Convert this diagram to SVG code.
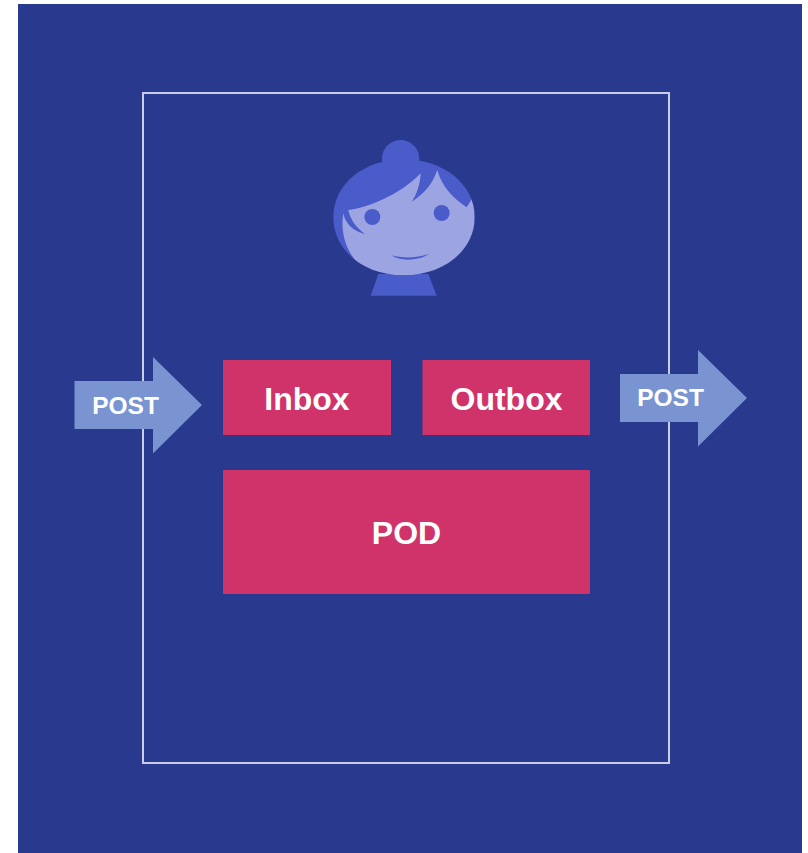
<svg xmlns="http://www.w3.org/2000/svg" width="808" height="853" viewBox="0 0 808 853">
<style>
.bg{fill:#29398d}
.frame{fill:none;stroke:#c9cde8;stroke-width:2}
.box{fill:#d03369}
.arrow{fill:#7a93d1}
.hair{fill:#4a5cc9}
.skin{fill:#9ca5e2}
text{font-family:"Liberation Sans",Arial,sans-serif;font-weight:700;fill:#fff;text-anchor:middle}
.big{font-size:32px}
.small{font-size:24.500px}
</style>
<defs>
<clipPath id="headClip"><path d="M70 262C70 160 165 88 281 88C397 88 494 160 494 262C494 364 397 436 281 436C165 436 70 364 70 262Z"/></clipPath>
</defs>
<rect class="bg" x="18" y="4" width="784" height="849"/>
<rect id="frame" class="frame" x="143" y="93" width="526" height="670"/>
<g id="person" transform="translate(310 130) scale(.33333)">
<path class="hair" d="M205 432L355 432L380 497L182 497Z"/>
<circle class="hair" cx="272" cy="86" r="56"/>
<path class="hair" d="M70 262C70 160 165 88 281 88C397 88 494 160 494 262C494 364 397 436 281 436C165 436 70 364 70 262Z"/>
<path class="skin" clip-path="url(#headClip)" d="M115 240C170 235 270 195 332 130C330 165 320 195 305 215C345 190 368 160 382 120C395 170 430 205 470 232L488 203L510 300L400 460L180 460L135 390C110 358 90 310 100 250C105 280 130 305 165 312C135 290 120 265 115 240Z"/>
<circle class="hair" cx="187" cy="261" r="24"/>
<circle class="hair" cx="395" cy="249" r="24"/>
<path class="hair" d="M244 376C280 386 325 384 357 371C330 392 272 396 244 376Z"/>
</g>
<g id="inbox">
<rect class="box" x="223" y="360" width="168" height="75"/>
<text class="big" x="307" y="410">Inbox</text>
</g>
<g id="outbox">
<rect class="box" x="422.500" y="360" width="167.500" height="75"/>
<text class="big" x="506.500" y="410">Outbox</text>
</g>
<g id="pod">
<rect class="box" x="223" y="470" width="367" height="124"/>
<text class="big" x="406.500" y="544">POD</text>
</g>
<g id="connectors">
<g id="post-in">
<path class="arrow" d="M74.500 381H153V357L202 405L153 453.500V429H74.500Z"/>
<text class="small" x="125.500" y="414">POST</text>
</g>
<g id="post-out">
<path class="arrow" d="M620 374H698V350L747 398L698 446.500V422H620Z"/>
<text class="small" x="670.500" y="406">POST</text>
</g>
</g>
</svg>
